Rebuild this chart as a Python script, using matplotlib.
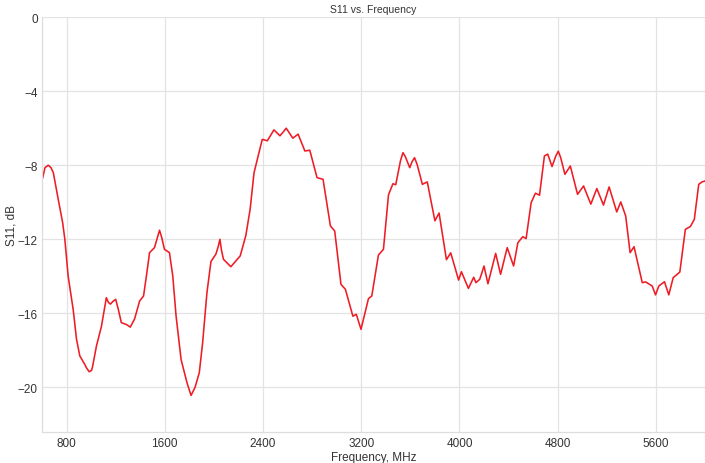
import matplotlib
matplotlib.use("Agg")
import matplotlib.pyplot as plt

# S11 trace (frequency in MHz, S11 in dB)
freq_mhz = [
    606, 624, 651, 673, 692, 732, 768, 786, 813, 854, 881, 908, 949, 962, 984,
    1003, 1011, 1043, 1084, 1124, 1140, 1157, 1178, 1200, 1222, 1246, 1287,
    1319, 1354, 1395, 1427, 1454, 1476, 1516, 1540, 1557, 1575, 1597, 1638,
    1665, 1692, 1733, 1781, 1814, 1846, 1881, 1908, 1943, 1976, 2016, 2035,
    2049, 2062, 2078, 2138, 2214, 2260, 2295, 2327, 2354, 2394, 2435, 2465,
    2489, 2538, 2565, 2589, 2643, 2686, 2741, 2781, 2840, 2889, 2949, 2984,
    3035, 3071, 3132, 3160, 3198, 3259, 3286, 3340, 3381, 3422, 3458, 3481,
    3520, 3540, 3560, 3595, 3615, 3634, 3655, 3698, 3738, 3800, 3834, 3894,
    3929, 3993, 4016, 4073, 4116, 4134, 4165, 4183, 4200, 4215, 4232, 4295,
    4335, 4389, 4441, 4476, 4516, 4543, 4584, 4619, 4652, 4692, 4719, 4754,
    4785, 4805, 4825, 4859, 4903, 4962, 5011, 5070, 5119, 5173, 5219, 5281,
    5314, 5354, 5390, 5422, 5489, 5516, 5570, 5597, 5624, 5670, 5705, 5741,
    5795, 5840, 5881, 5913, 5949, 5976, 6000,
]
s11_db = [
    -8.67, -8.13, -8.0, -8.13, -8.4, -9.84, -11.1, -12.0, -14.0, -15.8, -17.4,
    -18.3, -18.76, -18.94, -19.15, -19.08, -18.9, -17.77, -16.7, -15.15, -15.4,
    -15.5, -15.35, -15.24, -15.8, -16.5, -16.6, -16.74, -16.3, -15.33, -15.06,
    -13.8, -12.72, -12.45, -11.9, -11.51, -11.9, -12.54, -12.72, -13.98,
    -16.15, -18.5, -19.75, -20.43, -20.0, -19.2, -17.6, -14.9, -13.2, -12.8,
    -12.4, -12.0, -12.6, -13.08, -13.48, -12.9, -11.8, -10.38, -8.4, -7.68,
    -6.6, -6.68, -6.35, -6.09, -6.41, -6.2, -6.0, -6.54, -6.32, -7.23, -7.19,
    -8.67, -8.76, -11.28, -11.55, -14.43, -14.7, -16.15, -16.05, -16.86,
    -15.2, -15.06, -12.85, -12.54, -9.6, -9.0, -9.05, -7.75, -7.32, -7.55,
    -8.13, -7.8, -7.59, -7.95, -9.03, -8.9, -11.0, -10.58, -13.1, -12.73,
    -14.2, -13.75, -14.65, -14.05, -14.34, -14.16, -13.8, -13.44, -13.9,
    -14.4, -12.76, -13.89, -12.45, -13.44, -12.18, -11.86, -11.96, -10.02,
    -9.51, -9.62, -7.5, -7.4, -8.07, -7.5, -7.24, -7.6, -8.49, -8.04, -9.57,
    -9.12, -10.1, -9.26, -10.15, -9.17, -10.52, -9.98, -10.74, -12.72, -12.4,
    -14.34, -14.3, -14.52, -15.0, -14.52, -14.29, -15.0, -14.07, -13.77,
    -11.46, -11.31, -10.92, -9.03, -8.9, -8.85,
]

x_ticks = [800, 1600, 2400, 3200, 4000, 4800, 5600]
y_ticks = [0, -4, -8, -12, -16, -20]

plt.rcParams["font.family"] = ["Liberation Sans", "DejaVu Sans"]

fig = plt.figure(figsize=(7.05, 4.64), dpi=100)
ax = fig.add_axes([0.0596, 0.067, 0.9404, 0.894])

ax.plot(freq_mhz, s11_db, color="#ee1c25", linewidth=1.15,
        solid_joinstyle="round")

ax.set_xlim(600, 6000)
ax.set_ylim(-22.4, 0)
ax.set_xticks(x_ticks)
ax.set_yticks(y_ticks)
ax.set_yticklabels([str(v).replace("-", "\u2212") for v in y_ticks])

ax.grid(True, color="#e3e3e3", linewidth=0.9)
ax.set_axisbelow(True)
for side in ("top", "right"):
    ax.spines[side].set_visible(False)
for side in ("left", "bottom"):
    ax.spines[side].set_color("#dddddd")
    ax.spines[side].set_linewidth(0.9)
ax.tick_params(axis="x", length=0, labelsize=8.5, colors="#333333", pad=4)
ax.tick_params(axis="y", length=0, labelsize=8.5, colors="#333333", pad=3)

ax.set_title("S11 vs. Frequency", fontsize=7.5, color="#333333", pad=4)
ax.set_xlabel("Frequency, MHz", fontsize=8.5, color="#333333", labelpad=1)
ax.set_ylabel("S11, dB", fontsize=8.5, color="#333333", labelpad=0)

fig.savefig("out.png", dpi=100)
